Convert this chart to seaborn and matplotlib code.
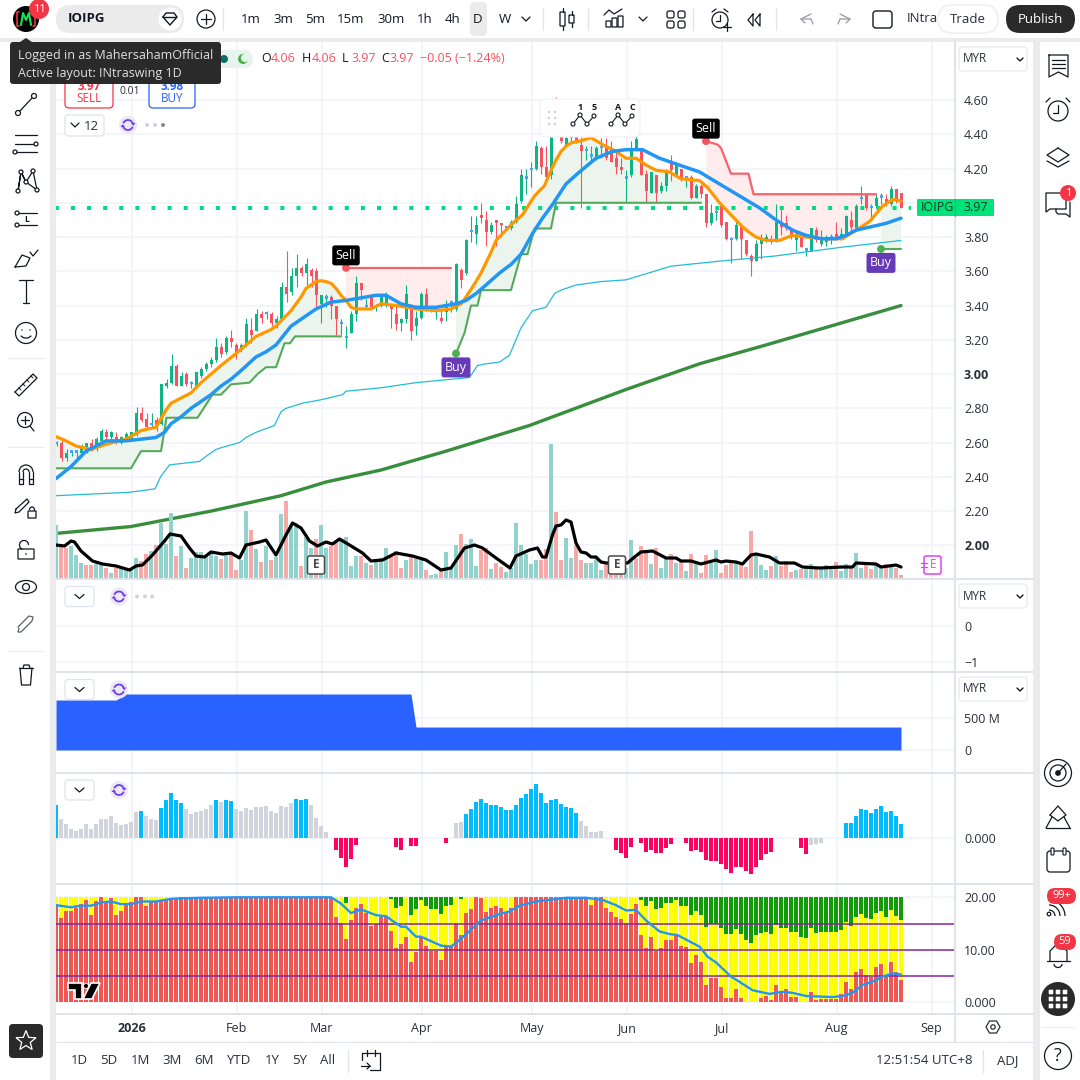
import numpy as np
import pandas as pd
import matplotlib
matplotlib.use('Agg')
import matplotlib.pyplot as plt
from matplotlib.patches import FancyBboxPatch, Circle, Polygon, Arc, Ellipse
import seaborn as sns

# daily candles
opens = [2.59,2.60,2.51,2.54,2.54,2.54,2.55,2.60,2.56,2.61,2.66,2.63,2.63,2.60,2.62,2.62,2.65,2.77,2.74,2.70,2.73,2.71,2.93,2.95,3.05,2.93,3.00,2.94,2.93,2.99,
         3.03,3.06,3.08,3.16,3.13,3.21,3.17,3.14,3.17,3.26,3.25,3.35,3.35,3.35,3.30,3.32,3.51,3.48,3.57,3.62,3.59,3.61,3.60,3.41,3.44,3.45,3.40,3.29,3.21,3.24,
         3.35,3.53,3.39,3.46,3.39,3.40,3.40,3.40,3.35,3.30,3.32,3.39,3.28,3.33,3.47,3.38,3.37,3.33,3.36,3.41,3.38,3.61,3.59,3.83,3.82,3.93,3.90,3.83,3.90,3.88,
         3.85,3.85,3.89,4.01,4.14,4.19,4.20,4.32,4.21,4.16,4.45,4.42,4.34,4.38,4.41,4.34,4.30,4.27,4.26,4.32,4.33,4.31,4.26,4.21,4.14,4.16,4.32,4.32,4.17,4.06,
         4.16,4.07,4.10,4.24,4.16,4.20,4.14,4.15,4.03,4.10,4.05,3.88,3.94,3.98,3.89,3.78,3.79,3.87,3.78,3.69,3.66,3.76,3.78,3.79,3.78,3.89,3.88,3.85,3.78,3.81,
         3.72,3.72,3.84,3.76,3.77,3.79,3.82,3.79,3.81,3.90,3.85,4.02,4.05,3.97,3.98,4.03,4.02,3.99,4.08,4.06]
highs = [2.61,2.62,2.56,2.55,2.55,2.59,2.60,2.62,2.63,2.68,2.68,2.67,2.66,2.64,2.66,2.66,2.81,2.81,2.77,2.77,2.75,2.94,2.97,3.12,3.06,3.01,3.01,2.96,3.01,3.04,
         3.07,3.10,3.21,3.18,3.22,3.26,3.18,3.18,3.33,3.33,3.38,3.37,3.37,3.36,3.34,3.54,3.72,3.62,3.70,3.63,3.68,3.62,3.62,3.46,3.47,3.46,3.40,3.32,3.28,3.37,
         3.57,3.53,3.44,3.47,3.41,3.47,3.48,3.41,3.41,3.33,3.52,3.40,3.37,3.48,3.50,3.40,3.38,3.38,3.43,3.43,3.65,3.62,3.79,3.92,3.92,4.00,3.95,3.89,3.90,3.88,
         3.86,3.90,4.04,4.20,4.20,4.24,4.36,4.33,4.33,4.45,4.62,4.47,4.42,4.44,4.44,4.39,4.33,4.33,4.33,4.38,4.38,4.36,4.31,4.26,4.19,4.36,4.42,4.32,4.19,4.18,
         4.16,4.12,4.20,4.28,4.24,4.20,4.15,4.16,4.11,4.11,4.05,3.99,3.98,3.98,3.89,3.80,3.89,3.87,3.78,3.70,3.78,3.82,3.82,3.81,3.99,3.98,3.93,3.86,3.83,3.82,
         3.73,3.85,3.86,3.84,3.81,3.82,3.89,3.85,3.93,3.95,3.99,4.10,4.05,3.99,4.05,4.06,4.05,4.10,4.08,4.06]
lows = [2.58,2.49,2.49,2.52,2.50,2.53,2.54,2.55,2.55,2.60,2.62,2.62,2.59,2.59,2.61,2.61,2.64,2.72,2.68,2.69,2.67,2.70,2.92,2.94,2.93,2.93,2.93,2.92,2.93,2.98,
        3.02,3.04,3.07,3.10,3.12,3.16,3.09,3.13,3.16,3.18,3.25,3.30,3.32,3.28,3.27,3.32,3.42,3.46,3.51,3.57,3.52,3.51,3.38,3.30,3.39,3.32,3.23,3.23,3.15,3.24,
        3.31,3.43,3.38,3.38,3.37,3.39,3.39,3.27,3.26,3.25,3.30,3.20,3.23,3.32,3.37,3.36,3.32,3.30,3.31,3.36,3.37,3.50,3.58,3.77,3.76,3.88,3.75,3.82,3.75,3.80,
        3.84,3.84,3.88,4.00,4.05,4.09,4.19,4.17,4.14,4.14,4.39,4.35,4.33,4.36,4.35,3.97,4.25,4.25,4.25,4.26,4.25,4.24,4.17,4.17,4.00,4.15,4.31,4.16,4.00,4.06,
        4.00,4.06,4.07,4.13,4.15,4.13,4.09,4.02,4.03,4.03,3.86,3.87,3.90,3.86,3.78,3.65,3.78,3.67,3.69,3.57,3.66,3.67,3.77,3.76,3.77,3.81,3.84,3.79,3.72,3.74,
        3.69,3.72,3.77,3.75,3.75,3.76,3.78,3.78,3.81,3.83,3.84,3.99,3.96,3.91,3.97,3.99,3.98,3.98,4.00,3.97]
closes = [2.59,2.51,2.54,2.54,2.54,2.57,2.60,2.56,2.62,2.67,2.63,2.66,2.60,2.63,2.65,2.66,2.77,2.73,2.69,2.70,2.70,2.94,2.95,3.05,2.93,2.99,2.94,2.94,3.01,3.03,
          3.06,3.08,3.16,3.12,3.21,3.19,3.12,3.17,3.29,3.23,3.35,3.33,3.35,3.30,3.32,3.51,3.47,3.57,3.62,3.59,3.64,3.57,3.46,3.46,3.44,3.40,3.32,3.29,3.21,3.35,
          3.53,3.49,3.39,3.39,3.39,3.45,3.45,3.38,3.29,3.32,3.47,3.25,3.33,3.47,3.40,3.38,3.37,3.31,3.41,3.41,3.64,3.55,3.78,3.83,3.87,3.91,3.83,3.87,3.88,3.87,
          3.85,3.89,3.99,4.16,4.14,4.19,4.33,4.21,4.15,4.40,4.40,4.36,4.38,4.42,4.36,4.30,4.30,4.27,4.32,4.32,4.26,4.24,4.21,4.19,4.14,4.31,4.37,4.16,4.07,4.18,
          4.06,4.10,4.19,4.19,4.23,4.14,4.14,4.03,4.10,4.05,3.88,3.94,3.94,3.87,3.79,3.78,3.87,3.79,3.70,3.66,3.76,3.79,3.80,3.77,3.89,3.86,3.85,3.80,3.82,3.74,
          3.72,3.85,3.78,3.79,3.80,3.79,3.79,3.82,3.92,3.86,3.98,4.02,3.97,3.97,4.03,4.03,3.99,4.08,4.02,3.97]

# volume, scale is screen height of the pane
volume = [53,31,30,32,23,15,13,13,14,13,10,5,10,10,8,8,20,17,24,27,33,55,34,65,22,32,10,20,26,26,
          22,27,22,19,26,26,8,18,67,48,29,16,32,18,21,64,77,53,55,12,41,30,39,53,30,32,38,37,41,12,
          22,22,15,13,18,20,30,23,27,10,18,22,20,18,8,3,4,8,26,10,33,44,34,39,12,28,30,9,15,11,
          6,10,55,33,24,14,18,18,29,134,66,18,40,20,33,18,15,15,20,8,15,8,5,5,10,38,20,32,25,14,
          30,10,20,24,15,18,7,24,15,5,23,15,28,5,13,17,15,13,11,47,23,13,8,12,22,12,17,6,8,9,
          10,14,9,10,13,9,16,7,14,11,25,10,13,9,14,10,14,14,10,3]
volume_red = [1,2,6,7,10,12,17,18,20,24,26,33,35,36,39,41,43,46,49,52,55,56,61,63,67,68,69,71,74,77,81,85,86,88,89,
              97,98,100,101,104,105,110,111,112,113,116,117,118,120,123,125,127,129,130,133,134,135,137,138,139,
              143,145,146,147,149,152,156,159,162,163,166,168,169]

# line studies, bar number and level
fast_x = [0,2,4,7,10,14,17,20,21,22,23,25,27,29,31,33,36,38,40,43,44,47,49,50,52,53,54,55,56,57,58,59,60,63,65,68,72,76,79,81,82,84,85,87,88,91.3,93.3,95.7,97.7,98.7,100,101,102,103,104.7,107,109.3,112,114,116,118,120,122.7,125,128.7,130.3,132.7,135.3,137.3,138.5,140,142,144.7,147.3,150,153.3,157.3,160,162.7,165.3,167.3,169]
fast = [2.635,2.61,2.58,2.56,2.59,2.62,2.67,2.69,2.74,2.79,2.83,2.86,2.89,2.95,3.00,3.05,3.12,3.17,3.22,3.26,3.28,3.37,3.45,3.50,3.54,3.545,3.54,3.53,3.50,3.46,3.43,3.39,3.38,3.38,3.41,3.40,3.38,3.37,3.38,3.41,3.45,3.54,3.59,3.71,3.78,3.88,3.93,4.04,4.10,4.17,4.25,4.30,4.33,4.35,4.36,4.38,4.34,4.30,4.26,4.26,4.22,4.19,4.18,4.14,4.13,4.09,4.00,3.92,3.86,3.83,3.80,3.78,3.78,3.81,3.80,3.79,3.79,3.84,3.89,3.98,4.02,4.01]
slow_x = [0,3,6,8,10,12,14,17,20,21.7,23,25,27,29,31,33,35,37,40,42,44,47,50,52,55,58,60,64,66,69,72,76,80,82,84,86,88.7,91,93,95.3,97.3,99.3,102,104.7,108,111.3,114,117.3,120.7,124.7,128.7,132.7,136.7,140.7,144,147.3,150,153,156,158,160,163,166,169]
slow = [2.39,2.46,2.55,2.58,2.61,2.61,2.61,2.62,2.63,2.66,2.71,2.75,2.80,2.84,2.88,2.93,2.97,3.02,3.10,3.13,3.17,3.28,3.34,3.38,3.42,3.43,3.44,3.46,3.46,3.41,3.39,3.39,3.41,3.43,3.47,3.52,3.59,3.64,3.70,3.82,3.91,3.99,4.11,4.18,4.26,4.30,4.31,4.31,4.26,4.22,4.18,4.11,4.04,3.97,3.90,3.84,3.81,3.79,3.79,3.81,3.84,3.86,3.88,3.91]
cyan_x = [0,14.7,19.8,21,22.7,28.7,30,32,33,36.7,38,40,43.7,45,46,49.3,53,57.3,58,65,72,82.7,84.3,86,88.7,90.7,92,93,95.3,98,99.7,101,104,109,114,123,133,144,157,169]
cyan = [2.29,2.31,2.33,2.405,2.47,2.49,2.52,2.56,2.57,2.60,2.63,2.66,2.70,2.78,2.80,2.83,2.85,2.88,2.90,2.92,2.95,2.98,3.05,3.06,3.07,3.11,3.20,3.27,3.37,3.39,3.47,3.49,3.52,3.54,3.55,3.63,3.66,3.69,3.74,3.78]
long_x = [0,15,31,45,54,65,78,94.7,114,128.7,142,169]
long_ma = [2.07,2.11,2.20,2.29,2.37,2.44,2.55,2.70,2.91,3.06,3.17,3.40]
black_x = [0,1.7,3,3.7,5,7.3,9.3,12,14.7,16,17.3,19.3,21.7,22.8,25,26.7,28,29.7,31,33.3,35,36.7,38,40.7,42,44,46,47.3,49,50.7,52.3,54,55.3,56.7,58.7,61.3,63,65.3,68,71.3,74,77,79,81.7,83.7,85.3,88,90.8,92,94.7,
           96.3,97.3,98,99.3,100,101,102,103,104,105,106,107,108,109,110,114.3,115.7,117,119.3,122,124,125,127,129,132,133,134,136,137.3,139,140,142.7,144.7,147.7,149.3,152.7,157.3,159.3,160,164,165,168,169]
black = [33,32,37,36,27,17,14,12,8,12,13,23,37,44,42,30,22,21,26,24,25,20,33,36,38,23,43,55,50,37,32,36,34,39,33,25,17,18,25,22,18,8,10,30,33,30,20,10,22,28,
         30,21,21,43,52,53,58,56,35,26,25,21,21,16,15,15,21,26,27,20,20,17,17,14,18,16,17,16,14,23,24,21,15,15,11,10,11,11,15,14,11,13,11]

# trailing stop segments
trail_a_x = [0,15,17,21,22.1,28.3,31.3,33,35,38.7,40.3,42,44,45.7,46.8,47.8,57]
trail_a = [2.45,2.45,2.55,2.55,2.745,2.745,2.88,2.88,2.94,2.95,3.00,3.04,3.04,3.18,3.18,3.22,3.22]
trail_b_x = [80,81.7,83,84.3,85,91,93,94.3,95.7,99,100,129]
trail_b = [3.12,3.24,3.40,3.40,3.49,3.49,3.70,3.70,3.85,3.85,4.00,4.00]
trail_c_x = [165,169]
trail_c = [3.73,3.73]
stop_a_x = [58,79]
stop_a = [3.62,3.62]
stop_b_x = [130,132.3,133,135,138.5,139.5,164]
stop_b = [4.36,4.34,4.32,4.17,4.17,4.05,4.05]

# float pane, millions
float_x = [0,12,14,71,72,169]
float_m = [781,781,875,875,359,359]

# momentum histogram
wave = [33,19,14,9,7,9,14,9,14,19,19,22,15,13,14,16,26,27,22,19,18,30,38,45,38,35,29,24,26,27,
        29,33,38,36,38,37,29,27,30,28,31,31,32,27,25,32,31,35,39,38,39,33,20,12,6,0,-12,-20,-29,-21,
        -7,0,0,0,0,0,0,0,-9,-12,0,-8,-8,0,0,0,0,0,-5,0,15,16,24,29,36,39,35,33,33,31,
        28,28,33,40,44,49,54,45,35,38,39,34,31,30,25,17,12,6,6,7,0,0,-12,-15,-20,-9,0,-5,-14,-12,
        -15,-15,-10,-6,0,0,-5,-13,-12,-14,-22,-23,-23,-26,-31,-35,-29,-29,-33,-36,-29,-22,-16,-14,0,0,0,0,0,-10,
        -16,-7,-6,-5,0,0,0,0,15,15,22,29,28,25,29,32,26,27,22,14]
wave_blue = [0,17,21,22,23,24,25,32,34,35,48,49,50] + list(range(82,105)) + list(range(158,170))
wave_gray = [151,152,153]

# stacked money flow pane
flow_red = [18.3,16.1,17.4,17.4,17.9,18.7,19.5,16.6,19.3,20,19.0,19.8,16.6,17.4,18.5,19.2,20,20,18.3,19.2,19.2,19.5,19.5,19.7,19.8,20,20,20,20,20,
            20,20,20,20,20,20,20,20,20,20,20,20,20,20,20,20,20,20,20,20,20,20,20,20,20,20,16.3,15.2,12.1,15.7,
            18.0,18.8,17.0,14.5,15.0,16.3,16.3,13.6,10.3,11.1,12.5,7.7,9.5,12.5,10.7,9.7,9.7,8.1,10.6,10.6,15.2,12.8,17.1,17.8,20,19.8,17.2,18.0,18.3,18.0,
            17.1,18.0,20,20,20,20,20,20,20,20,20,20,20,20,20,20,20,18.5,20,20,18.0,17.2,16.3,15.9,15.2,16.9,18.7,12.8,10.4,12.4,
            9.8,10.3,11.9,11.9,12.8,10.7,10.5,7.4,9.0,7.7,3.3,4.7,4.7,2.9,0.8,0.8,2.5,0.8,0.1,0.1,0.1,0.8,1.2,0.4,3.3,2.0,2.5,1.1,1.1,0.1,
            0.1,2.0,0.4,0.7,0.7,0.7,0.6,1.6,3.9,2.5,5.7,6.3,5.2,4.9,6.8,7.3,4.8,7.6,5.8,4.3]
flow_yellow = [20,20,20,20,20,20,20,20,20,20,20,20,20,20,20,20,20,20,20,20,20,20,20,20,20,20,20,20,20,20,
               20,20,20,20,20,20,20,20,20,20,20,20,20,20,20,20,20,20,20,20,20,20,20,20,20,20,20,20,18.9,20,
               20,20,20,20,20,20,20,19.7,18.0,18.3,20,16.6,17.8,19.4,18.4,17.7,17.7,16.9,18.3,18.5,20,19.6,20,20,20,20,20,20,20,20,
               20,20,20,20,20,20,20,20,20,20,20,20,20,20,20,20,20,20,20,20,20,20,20,20,20,20,20,19.4,18.3,19.3,
               17.7,18.0,19.0,19.0,19.5,18.4,18.3,16.6,17.4,16.6,14.4,14.9,14.9,14.2,13.0,13.0,13.9,13.1,11.8,11.3,12.8,13.2,13.3,13.0,14.7,14.2,14.2,13.4,13.4,12.4,
               12.2,14.2,13.2,13.4,13.4,13.4,13.4,13.7,15.3,14.5,16.3,16.8,16.1,15.9,17.0,17.4,16.3,17.6,16.5,15.7]
flow_line_x = [0,3,5,7,9,11,13,15,17,20,23,25,29,36,55,57,59,61,64,66,69,70,72,73,77,79,81,85,88.7,90.7,92.7,96,102,106,109.3,112,114,116,118,120.7,122.7,124.3,126.7,128.7,130.3,132,135,136.7,139.3,142.7,145.3,147.3,150,155.3,157.3,159.3,161.3,163.3,165.3,167.3,169]
flow_line = [18.5,18.1,18.4,18.4,19.0,19.2,18.7,18.7,19.2,19.2,19.7,19.8,19.9,20,20,18.8,17.0,17.7,16.6,16.4,14.4,14.4,12.5,12.5,10.8,10.6,12.1,15.6,16.8,17.3,18.4,19.2,19.9,19.9,19.5,18.5,17.5,17.6,15.6,13.5,13.0,12.8,11.6,10.6,8.7,7.6,4.9,3.9,2.3,1.6,2.0,1.8,1.2,1.0,1.2,1.8,3.3,3.9,4.9,5.5,5.3]

month_bars = [15,36,53,73,95,114,133,156,175]
month_labels = ['2026','Feb','Mar','Apr','May','Jun','Jul','Aug','Sep']
price_ticks = [4.6,4.4,4.2,4.0,3.8,3.6,3.4,3.2,3.0,2.8,2.6,2.4,2.2,2.0]

sns.set_style('white')
plt.rcParams['font.family'] = ['Open Sans', 'DejaVu Sans']

GRID = '#f0f3fa'
EDGE = '#e0e3eb'
INK = '#131722'
XLIM = (0, 179.8)
bar = np.arange(len(closes))

fig = plt.figure(figsize=(10.8, 10.8), dpi=100, facecolor='#ebebeb')


def pane(y0, y1, ylim):
    ax = fig.add_axes([56/1080, 1 - y1/1080, 899/1080, (y1 - y0)/1080], zorder=2)
    ax.set_facecolor('white')
    ax.set_ylim(*ylim)
    ax.set_xlim(*XLIM)
    for s in ax.spines.values():
        s.set_visible(False)
    return ax


def finish(ax, ticks, labels, grid=None):
    ax.set_xlim(*XLIM)
    ax.set_xticks(np.array(month_bars) + 0.12)
    ax.set_xticklabels([])
    ax.set_xlabel('')
    ax.set_ylabel('')
    ax.yaxis.tick_right()
    ax.set_yticks(ticks)
    ax.set_yticklabels(labels)
    ax.tick_params(axis='y', length=0, labelsize=9, pad=6.5, labelcolor='#2a2e39')
    ax.tick_params(axis='x', length=0)
    ax.set_axisbelow(True)
    ax.grid(True, axis='x', color=GRID, lw=1.1)
    for g in (ticks if grid is None else grid):
        ax.axhline(g, color=GRID, lw=1.1, zorder=0)


def bars(ax, vals, cols, width=0.8):
    df = pd.DataFrame({'i': bar, 'v': vals, 'c': cols})
    # the seaborn style puts white edges on patches, they eat the thin bars
    sns.barplot(data=df, x='i', y='v', hue='c', palette={c: c for c in set(cols)}, native_scale=True,
                dodge=False, width=width, saturation=1, legend=False, errorbar=None, linewidth=0, ax=ax)


def band(ax, tx, ty, color, edge=None):
    keep = [k for k, x in enumerate(fast_x) if tx[0] <= x <= tx[-1]]
    xs = list(tx) + [fast_x[k] for k in keep[::-1]]
    ys = list(ty) + [fast[k] for k in keep[::-1]]
    if edge is not None:
        xs.append(tx[0])
        ys.append(edge)
    ax.fill(xs, ys, color=color, lw=0, zorder=1)


def curve(ax, x, y, color, lw, z=4):
    sns.lineplot(x=x, y=y, color=color, lw=lw, ax=ax, sort=False, estimator=None, errorbar=None, zorder=z)


# white chart area behind everything
bg = fig.add_axes([0, 0, 1, 1], zorder=0)
bg.set_xlim(0, 1080)
bg.set_ylim(1080, 0)
bg.axis('off')
for x0, y0, x1, y1 in [(0, 0, 1080, 38), (0, 42, 50, 1080), (56, 42, 1033, 1080), (1040, 42, 1080, 1080)]:
    bg.fill([x0, x1, x1, x0], [y0, y0, y1, y1], color='white', lw=0)

# main pane
ax = pane(42, 578, (4.6 - 478/171.3, 4.6 + 58/171.3))
band(ax, trail_a_x, trail_a, '#ecf5ed')
band(ax, trail_b_x, trail_b, '#ecf5ed', edge=3.64)
band(ax, trail_c_x, trail_c, '#ecf5ed', edge=3.98)
band(ax, stop_a_x, stop_a, '#ffecec', edge=3.26)
band(ax, stop_b_x, stop_b, '#ffecec')

up, down, flat = '#0db585', '#f7525f', '#42a5f5'
cand_cols = [flat if o == c else (up if c > o else down) for o, c in zip(opens, closes)]
wick_cols = [up if o == c else col for o, c, col in zip(opens, closes, cand_cols)]
tops = np.maximum(opens, closes)
bots = np.minimum(opens, closes)
heights = np.maximum(tops - bots, 0.014)
ax.vlines(bar + 0.1, lows, highs, colors=wick_cols, lw=0.8, zorder=2)
ax.bar(bar + 0.1, heights, bottom=bots, width=0.6, color=cand_cols, lw=0, zorder=3)

ax.hlines(3.97, 0, 171, color='#00dc82', lw=2.9, ls=(0.3, (1, 3)), zorder=2.5)
curve(ax, cyan_x, cyan, '#22bcd6', 0.9)
curve(ax, long_x, long_ma, '#388e3c', 2.4)
for tx, ty in [(trail_a_x, trail_a), (trail_b_x, trail_b), (trail_c_x, trail_c)]:
    curve(ax, tx, ty, '#55aa5a', 1.5)
for tx, ty in [(stop_a_x, stop_a), (stop_b_x, stop_b)]:
    curve(ax, tx, ty, '#f7626c', 1.6)
curve(ax, fast_x, fast, '#ff9800', 2.3, z=5)
curve(ax, slow_x, slow, '#2196f3', 2.5, z=6)

sns.scatterplot(x=[58, 130], y=[3.62, 4.36], color='#f7525f', s=32, edgecolor='none', ax=ax, zorder=6)
sns.scatterplot(x=[80, 165], y=[3.12, 3.73], color='#4caf50', s=32, edgecolor='none', ax=ax, zorder=6)
for x, y, s, fc, off in [(58, 3.62, 'Sell', 'black', 9), (130, 4.36, 'Sell', 'black', 9),
                         (80, 3.12, 'Buy', '#673ab7', -10), (165, 3.73, 'Buy', '#673ab7', -10)]:
    ax.annotate(s, (x, y), xytext=(0, off), textcoords='offset points', ha='center', va='center',
                color='white', fontsize=9, zorder=7,
                bbox=dict(boxstyle='round,pad=0.28,rounding_size=0.2', fc=fc, ec='none'))
finish(ax, price_ticks, ['%.2f' % t for t in price_ticks])
for lab in ax.get_yticklabels():
    if lab.get_text() in ('3.00', '2.00'):
        lab.set_fontweight('bold')

# volume shares the main pane
ax_v = ax.twinx()
ax.yaxis.tick_right()
ax_v.set_zorder(3)
ax_v.patch.set_visible(False)
bars(ax_v, volume, ['#f7a9a7' if i in volume_red else '#92d2cc' for i in bar])
curve(ax_v, black_x, black, 'black', 2.3)
ax_v.set_ylim(0, 536)
ax_v.set_xlim(*XLIM)
ax_v.set_yticks([])
ax_v.set_xlabel('')
ax_v.set_ylabel('')
ax_v.tick_params(axis='x', length=0, labelbottom=False)
for s in ax_v.spines.values():
    s.set_visible(False)

# empty pane
ax2 = pane(580, 671, (-45/36, 46/36))
finish(ax2, [0, -1], ['0', '\u22121'])

# float pane
ax3 = pane(673, 772, (-22/32*500, 77/32*500))
ax3.fill_between(float_x, 0, float_m, color='#2962ff', lw=0, zorder=2)
finish(ax3, [500, 0], ['500 M', '0'])

# histogram pane
ax4 = pane(773, 883, (-45, 65))
wave_cols = ['#00bcff' if i in wave_blue else ('#d1d4dc' if (v > 0 or i in wave_gray) else '#ff0062')
             for i, v in zip(bar, wave)]
bars(ax4, wave, wave_cols)
finish(ax4, [0], ['0.000'])

# money flow pane
ax5 = pane(884, 1014, (-11.7/5.25, 118.3/5.25))
bars(ax5, [20]*len(bar), ['#119c07']*len(bar))
bars(ax5, flow_yellow, ['#ffff00']*len(bar))
bars(ax5, flow_red, ['#f05652']*len(bar))
for lvl in (15, 10, 5):
    ax5.axhline(lvl, color='#85259a', lw=1.1, zorder=4)
curve(ax5, flow_line_x, flow_line, '#2196f3', 1.7, z=5)
finish(ax5, [20, 10, 0], ['20.00', '10.00', '0.000'], grid=[20, 0])
ax5.set_xticklabels(month_labels)
ax5.tick_params(axis='x', labelsize=9, pad=5.5, labelcolor='#2a2e39')
ax5.get_xticklabels()[0].set_fontweight('bold')

# everything around the chart, in screen pixels
ui = fig.add_axes([0, 0, 1, 1], zorder=10)
ui.set_xlim(0, 1080)
ui.set_ylim(1080, 0)
ui.axis('off')


def txt(x, y, s, size=9, color=INK, ha='left', weight='normal', z=5):
    ui.text(x, y, s, fontsize=size, color=color, ha=ha, va='center', fontweight=weight, zorder=z)


def box(x0, y0, x1, y1, r=4, fc='white', ec='none', lw=1, z=4):
    ui.add_patch(FancyBboxPatch((x0, y0), x1 - x0, y1 - y0, boxstyle='round,pad=0,rounding_size=%g' % r,
                                fc=fc, ec=ec, lw=lw, zorder=z))


def line(xs, ys, color=INK, lw=0.9, z=5):
    ui.plot(xs, ys, color=color, lw=lw, zorder=z, solid_capstyle='round', solid_joinstyle='round')


def circ(x, y, r, fc='none', ec=INK, lw=0.9, z=5):
    ui.add_patch(Circle((x, y), r, fc=fc, ec=ec, lw=lw, zorder=z))


def arc(x, y, w, h, t1, t2, color=INK, lw=0.9):
    ui.add_patch(Arc((x, y), w, h, theta1=t1, theta2=t2, color=color, lw=lw, zorder=5))


# separators between panes
for y in (579, 672, 772.5, 883.5, 1014):
    line([56, 1033], [y, y], EDGE, 1.4, z=1)
line([955, 955], [42, 1042], EDGE, 1.4, z=1)
line([56, 1033], [1042, 1042], EDGE, 0.8, z=1)

# top bar
circ(26, 19, 13, fc='black', ec='none')
line([19, 17, 17, 19], [12, 12, 26, 26], '#e53935', 1.2)
line([33, 35, 35, 33], [12, 12, 26, 26], '#e53935', 1.2)
line([21, 23, 26, 29, 31], [25, 13, 20, 13, 25], '#19e05a', 1.5)
circ(39, 9, 10, fc='#f23645', ec='none')
txt(39, 9.5, '11', 8, 'white', 'center')
box(56, 5, 184, 33, 14, fc='#ebebeb')
txt(68, 19, 'IOIPG', 9.5, INK, weight='bold')
circ(170, 19, 11.5, fc='white', ec='none')
line([163, 166, 174, 177, 170, 163], [17, 13, 13, 17, 25, 17], INK, 1)
line([164, 176], [17, 17], INK, 1)
circ(206, 19, 9)
line([206, 206], [14, 24])
line([201, 211], [19, 19])
line([223, 223], [8, 30], EDGE, 0.9)
box(470, 2, 487, 36, 5, fc='#ebebeb')
for x, s in [(251, '1m'), (283, '3m'), (315, '5m'), (351, '15m'), (391, '30m'), (425, '1h'), (453, '4h'), (478, 'D'), (505, 'W')]:
    txt(x, 19.5, s, 9.5, INK, 'center')
line([522, 526, 530], [17, 21, 17])
line([639, 643, 647], [17, 21, 17])
for x in (543, 588, 693, 776):
    line([x, x], [8, 30], EDGE, 0.9)
# candle icon
box(560, 12, 565, 26, 0.5, fc='white', ec=INK, lw=0.9)
box(569, 15, 574, 23, 0.5, fc='white', ec=INK, lw=0.9)
line([562.5, 562.5], [8, 12])
line([562.5, 562.5], [26, 30])
line([571.5, 571.5], [11, 15])
line([571.5, 571.5], [23, 27])
# bars and line icon
line([604, 609, 614, 622], [15, 10, 14, 9])
for x0, y0 in [(606, 21), (612, 18), (618, 16)]:
    box(x0, y0, x0 + 5, 27, 0.5, ec=INK, lw=0.9)
for x0, y0 in [(667, 11), (678, 11), (667, 21), (678, 21)]:
    box(x0, y0, x0 + 7, y0 + 7, 2, ec=INK, lw=0.9)
circ(720, 20, 8)
line([720, 720, 716], [15, 21, 21])
line([712, 716], [12, 9])
line([728, 724], [12, 9])
line([727, 727], [23, 31])
line([723, 731], [27, 27])
line([753, 748, 753, 753], [14, 20, 26, 14])
line([760, 755, 760, 760], [14, 20, 26, 14])
line([811, 801, 805], [14, 19, 23], '#9598a1')
line([801, 811, 813], [19, 19, 24], '#9598a1')
line([840, 850, 846], [14, 19, 23], '#9598a1')
line([850, 840, 838], [19, 19, 24], '#9598a1')
box(873, 11, 892, 28, 3, ec=INK, lw=1)
txt(907, 19, 'INtra', 9.5, '#2a2e39', z=3)
box(938, 5, 998, 33, 14, ec='#eeeeee', lw=1)
txt(968, 19.5, 'Trade', 9.5, '#2a2e39', 'center')
box(1006, 5, 1075, 33, 14, fc='#2a2a2a')
txt(1040.5, 19.5, 'Publish', 9.5, 'white', 'center')

# legend row and order boxes
box(215, 50, 253, 68, 9, fc='#e7f3ec')
circ(224, 59, 4, fc='#0b6e63', ec='none')
circ(243, 59, 5, fc='#4caf50', ec='none')
circ(245, 58, 4, fc='#e7f3ec', ec='none')
for x, s, col in [(261, 'O', INK), (271, '4.06', '#f7525f'), (302, 'H', INK), (312, '4.06', '#f7525f'),
                  (342, 'L', INK), (351, '3.97', '#f7525f'), (381, 'C', INK), (390, '3.97', '#f7525f'),
                  (420, '\u22120.05 (\u22121.24%)', '#f7525f')]:
    txt(x, 59, s, 9, col)
box(65, 80, 113, 108, 4, ec='#f23645', lw=0.9)
box(149, 80, 195, 108, 4, ec='#2962ff', lw=0.9)
txt(89, 86, '3.97', 8.5, '#f23645', 'center', 'bold')
txt(89, 99, 'SELL', 8.5, '#f23645', 'center')
txt(172, 86, '3.98', 8.5, '#2962ff', 'center', 'bold')
txt(172, 99, 'BUY', 8.5, '#2962ff', 'center')
txt(130, 91, '0.01', 7.5, '#2a2e39', 'center')
box(10, 42, 221, 84, 3, fc='#2a2a2a', z=20)
ui.add_patch(Polygon([[20, 42], [26, 38], [32, 42]], fc='#2a2a2a', ec='none', zorder=20))
txt(18, 55, 'Logged in as MahersahamOfficial', 9, '#e0e0e0', z=21)
txt(18, 74, 'Active layout: INtraswing 1D', 9, '#e0e0e0', z=21)

# pane controls
def refresh(x, y):
    circ(x, y, 9, fc='#ede7f6', ec='none')
    arc(x, y, 10, 10, 200, 340, '#6b3ff0', 1.3)
    arc(x, y, 10, 10, 20, 160, '#6b3ff0', 1.3)
    ui.add_patch(Polygon([[x + 3, y - 2], [x + 7.5, y - 2], [x + 5.2, y + 0.8]], fc='#6b3ff0', ec='none', zorder=5))
    ui.add_patch(Polygon([[x - 3, y + 2], [x - 7.5, y + 2], [x - 5.2, y - 0.8]], fc='#6b3ff0', ec='none', zorder=5))


box(65, 115, 104, 136, 3, ec='#e0e3eb', lw=0.9)
line([71, 75, 79], [123, 127, 123])
txt(84, 126, '12', 9.5, '#2a2e39')
refresh(128, 125)
for x, c in [(147, '#d1d4dc'), (155, '#d1d4dc'), (163, '#868993')]:
    circ(x, 125, 2, fc=c, ec='none')
for y, dots in [(596.5, True), (689.5, False), (790, False)]:
    box(65, y - 10, 94, y + 10, 3, ec='#e0e3eb', lw=0.9)
    line([75, 79.5, 84], [y - 2, y + 2, y - 2])
    refresh(119, y)
    if dots:
        for x in (137, 145, 152):
            circ(x, y, 2, fc='#d1d4dc', ec='none')
for y in (59, 596, 689):
    box(959, y - 12, 1027, y + 12, 3, ec='#e8eaf0', lw=0.9)
    txt(963, y, 'MYR', 8.5, '#2a2e39')
    line([1017, 1020, 1023], [y - 1, y + 2, y - 1], INK, 1)

# last price tag
box(917, 199, 994, 216, 1, fc='#00e27a')
line([955, 955], [199, 216], '#00c469', 0.8)
txt(921, 207.5, 'IOIPG', 9, '#0b3d25')
txt(964, 207.5, '3.97', 9, '#0b3d25')

# wave toolbar
box(540, 99, 640, 137, 6, fc='white', ec='#f0f0f0', lw=0.8, z=6)
for x in (549, 555):
    for y in (112, 118, 124):
        circ(x, y, 1.3, fc='#d1d4dc', ec='none', z=7)
for x0, a, b in [(570, '1', '5'), (608, 'A', 'C')]:
    pts_x = [x0 + 3, x0 + 10, x0 + 17, x0 + 24]
    pts_y = [124, 115, 124, 116]
    line(pts_x, pts_y, INK, 0.8, z=7)
    for px, py in zip(pts_x, pts_y):
        circ(px, py, 2, fc='white', ec=INK, lw=0.8, z=8)
    txt(x0 + 10, 108, a, 6.5, INK, 'center', 'bold', z=8)
    txt(x0 + 24, 108, b, 6.5, INK, 'center', 'bold', z=8)

# earnings flags
for x, col in [(316, '#4a4a4a'), (617, '#4a4a4a')]:
    box(x - 8.5, 556, x + 8.5, 574, 2, fc='white', ec=col, lw=1.1, z=6)
    txt(x, 565, 'E', 8.5, col, 'center', 'bold', z=7)
box(924, 556, 941, 574, 2, fc='white', ec='#e040fb', lw=1.1, z=6)
txt(933, 565, 'E', 8.5, '#e040fb', 'center', z=7)
line([921, 927], [563, 563], '#e040fb', 0.9, z=7)
line([921, 927], [567, 567], '#e040fb', 0.9, z=7)

# tv logo
ui.add_patch(Polygon([[68, 983], [82, 983], [82, 999], [75, 999], [75, 990], [68, 990]], fc='black', ec='white', lw=1.2, zorder=6))
ui.add_patch(Polygon([[91, 983], [100, 983], [92, 999], [83, 999]], fc='black', ec='white', lw=1.2, zorder=6))
circ(86, 986, 2.5, fc='black', ec='white', lw=0.6, z=6)

# left tool bar
line([18, 34], [113, 96]); circ(18, 113, 2.5, fc='white'); circ(34, 96, 2.5, fc='white')
for y in (135, 144, 152):
    line([15, 37], [y, y])
circ(36, 144, 2, fc='white'); circ(15, 152, 2, fc='white')
line([18, 21, 26, 33, 37, 26, 21, 18], [191, 172, 182, 171, 190, 182, 172, 191])
for x, y in [(18, 191), (21, 172), (26, 182), (33, 171), (37, 190)]:
    circ(x, y, 2, fc='white')
line([17, 37], [213, 213]); line([17, 37], [225, 225])
circ(17, 213, 2, fc='white'); circ(17, 225, 2, fc='white')
txt(27, 219, 'L', 6, INK, 'center', 'bold')
line([15, 22, 30, 26, 15], [267, 255, 258, 266, 267])
line([30, 33, 38], [252, 256, 250])
line([19, 33], [280, 280]); line([26, 26], [280, 303]); line([23, 29], [303, 303])
circ(26, 333, 10.5)
circ(22, 330, 0.7, fc=INK, ec='none'); circ(30, 330, 0.7, fc=INK, ec='none')
line([21, 24, 28, 31], [336, 338, 338, 336])
for y in (358, 447, 651):
    line([8, 44], [y, y], '#eeeeee', 0.9)
line([15, 33, 37, 19, 15], [392, 374, 378, 396, 392])
for k in range(4):
    line([19 + k*4, 21 + k*4], [388 - k*4, 390 - k*4], INK, 0.7)
circ(25, 420, 7.5)
line([25, 25], [416, 424]); line([21, 29], [420, 420]); line([30, 34], [426, 431])
line([19, 19], [484, 472]); line([33, 33], [484, 472])
arc(26, 472, 14, 14, 180, 360)
arc(26, 472, 6, 6, 180, 360)
line([23, 23], [472, 484]); line([29, 29], [472, 484]); line([19, 23], [479, 479]); line([29, 33], [479, 479])
line([19, 23], [484, 484]); line([29, 33], [484, 484])
line([16, 27, 29, 19, 15, 16], [509, 499, 502, 512, 513, 509])
box(28, 511, 36, 518, 0.5, ec=INK, lw=0.9)
arc(32, 510, 5, 6, 180, 20)
box(18, 549, 34, 559, 0.5, ec=INK, lw=0.9)
arc(24, 545, 9, 9, 110, 360)
circ(26, 554, 0.8, fc=INK, ec='none')
ui.add_patch(Ellipse((26, 587), 21, 13, fc='none', ec=INK, lw=0.9, zorder=5))
circ(26, 587, 3.5)
line([18, 29, 33, 32, 21, 18, 19], [627, 616, 617, 621, 632, 632, 628], '#5d606b')
line([19, 33], [668, 668]); line([23, 24, 29, 30], [668, 665, 665, 668])
line([20, 21.5, 30.5, 32], [668, 685, 685, 668])

# right tool bar
line([1049, 1068, 1068, 1058.5, 1049, 1049], [55, 55, 77, 72, 77, 55])
for y in (60, 64, 68):
    line([1052, 1065], [y, y])
circ(1058, 111, 10)
line([1058, 1058, 1053], [105, 113, 113])
line([1046, 1050], [102, 98]); line([1070, 1066], [102, 98])
line([1058, 1069, 1058, 1047, 1058], [148, 155, 162, 155, 148])
line([1047, 1058, 1069], [161, 167, 161])
line([1066, 1046, 1046, 1050, 1054, 1056, 1066, 1066], [193, 193, 212, 209, 209, 209, 209, 193])
line([1056, 1056, 1058, 1066, 1070, 1070], [209, 212, 214, 214, 217, 202])
circ(1068, 193, 8, fc='#f23645', ec='none', z=6)
txt(1068, 193, '1', 8, 'white', 'center', z=7)
circ(1058, 773, 13.5)
circ(1058, 773, 8)
circ(1058, 773, 2.2, fc=INK)
line([1058, 1066], [773, 764])
line([1046, 1052], [828, 817]); line([1064, 1070], [817, 828]); line([1046, 1070], [828, 828])
line([1050, 1058, 1066, 1058, 1050], [815, 806, 815, 821, 815])
box(1047, 851, 1070, 872, 3, ec=INK, lw=0.9)
box(1051, 848, 1054, 855, 1, fc='white', ec=INK, lw=0.8)
box(1063, 848, 1066, 855, 1, fc='white', ec=INK, lw=0.8)
for r in (6, 11, 16):
    arc(1049, 916, 2*r, 2*r, 270, 360)
circ(1049, 914, 1.8)
box(1047, 888, 1076, 904, 8, fc='#f23645', z=6)
txt(1061.5, 896, '99+', 8, 'white', 'center', z=7)
line([1047, 1070], [961, 961])
line([1050, 1050, 1058, 1067, 1067], [961, 951, 943, 951, 961])
arc(1058, 964, 8, 7, 0, 180)
box(1054, 934, 1076, 950, 8, fc='#f23645', z=6)
txt(1065, 942, '59', 8, 'white', 'center', z=7)
circ(1058, 999, 17, fc='#2a2a2a', ec='none')
for px in (1051, 1058, 1065):
    for py in (992, 999, 1006):
        box(px - 2.3, py - 2.3, px + 2.3, py + 2.3, 0.6, fc='white', z=6)
line([1042, 1074], [1027, 1027], '#eeeeee', 0.9)
circ(1058, 1056, 13.5)
txt(1058, 1056, '?', 13, INK, 'center')

# bottom bar
box(9, 1024, 43, 1058, 4, fc='#2a2a2a')
sx, sy = [], []
for k in range(10):
    r = 10.5 if k % 2 == 0 else 4.5
    sx.append(26 + r*np.sin(k*np.pi/5))
    sy.append(1041 - r*np.cos(k*np.pi/5))
ui.add_patch(Polygon(np.c_[sx, sy], fc='none', ec='white', lw=0.9, zorder=5))
for x, s in [(79, '1D'), (109, '5D'), (140, '1M'), (172, '3M'), (204, '6M'), (238, 'YTD'), (272, '1Y'), (300, '5Y'), (328, 'All')]:
    txt(x, 1061, s, 9.5, '#2a2e39', 'center')
line([348, 348], [1050, 1072], EDGE, 0.9)
line([362, 380, 380, 370], [1053, 1053, 1070, 1070])
line([362, 362], [1053, 1060])
line([367, 367], [1050, 1056]); line([375, 375], [1050, 1056])
line([361, 370], [1066, 1066]); line([367, 370, 367], [1063, 1066, 1069])
txt(924, 1061, '12:51:54 UTC+8', 9.5, '#2a2e39', 'center')
line([983, 983], [1050, 1072], EDGE, 0.9)
txt(1008, 1061, 'ADJ', 9.5, '#2a2e39', 'center')
ui.add_patch(Polygon([[986, 1027], [989.5, 1021], [996.5, 1021], [1000, 1027], [996.5, 1033], [989.5, 1033]], fc='none', ec='#2a2e39', lw=0.9, zorder=5))
circ(993, 1027, 2.2, ec='#2a2e39')

fig.savefig('out.png', dpi=100, facecolor=fig.get_facecolor())
